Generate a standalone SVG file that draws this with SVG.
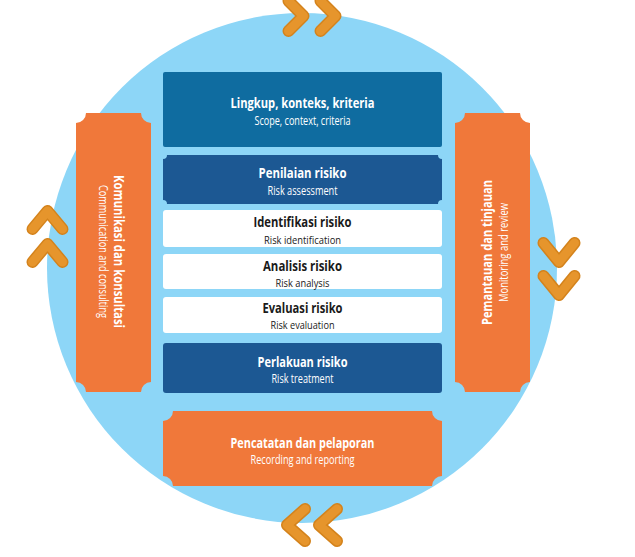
<svg xmlns="http://www.w3.org/2000/svg" width="635" height="557" viewBox="0 0 635 557">
<style>
.t{font-family:"Open Sans","Noto Sans","Liberation Sans",sans-serif;font-weight:700;font-size:14.5px;text-anchor:middle}
.s{font-family:"Open Sans","Noto Sans","Liberation Sans",sans-serif;font-weight:400;font-size:12px;text-anchor:middle}
.tb{font-size:14px}
.sb{font-size:11.5px}
.w{fill:#ffffff}
.d{fill:#1a1a1a}
.orange{fill:#f0783a}
.navy{fill:#1c5893}
.teal{fill:#0f6ca0}
.white{fill:#ffffff}
.chevO{fill:none;stroke:#d4831c;stroke-width:12;stroke-linecap:round;stroke-linejoin:round}
.chevI{fill:none;stroke:#e6952c;stroke-width:9;stroke-linecap:round;stroke-linejoin:round}
</style>
<defs>
<path id="chR" d="M0,-15 L15,0 L0,15"/>
<path id="chL" d="M18,-16 L0,0 L18,16"/>
<path id="chU" d="M-15,18 L0,0 L15,18"/>
<path id="chD" d="M-15.5,-19 L0,0 L15.5,-19"/>
</defs>
<rect width="635" height="557" fill="#ffffff"/>
<circle id="cycle" cx="302" cy="268" r="255" fill="#8dd6f7"/>

<g id="connectors">
<g transform="translate(288.5,16)"><use href="#chR" class="chevO"/><use href="#chR" class="chevI"/></g>
<g transform="translate(320.5,16)"><use href="#chR" class="chevO"/><use href="#chR" class="chevI"/></g>
<g transform="translate(287,525)"><use href="#chL" class="chevO"/><use href="#chL" class="chevI"/></g>
<g transform="translate(319,525)"><use href="#chL" class="chevO"/><use href="#chL" class="chevI"/></g>
<g transform="translate(47.5,211)"><use href="#chU" class="chevO"/><use href="#chU" class="chevI"/></g>
<g transform="translate(47.5,244)"><use href="#chU" class="chevO"/><use href="#chU" class="chevI"/></g>
<g transform="translate(559,262)"><use href="#chD" class="chevO"/><use href="#chD" class="chevI"/></g>
<g transform="translate(559,295)"><use href="#chD" class="chevO"/><use href="#chD" class="chevI"/></g>
</g>

<g id="scope">
<rect x="163" y="72" width="279" height="75" rx="2" class="teal"/>
<text x="302.5" y="108" class="t w" textLength="144" lengthAdjust="spacingAndGlyphs">Lingkup, konteks, kriteria</text>
<text x="302.5" y="125" class="s w" textLength="96" lengthAdjust="spacingAndGlyphs">Scope, context, criteria</text>
</g>

<g id="assessment">
<path d="M167,155 H438 A4 4 0 0 0 442,159 V200 A4 4 0 0 0 438,204 H167 A4 4 0 0 0 163,200 V159 A4 4 0 0 0 167,155 Z" class="navy"/>
<text x="302.5" y="178" class="t w" textLength="88" lengthAdjust="spacingAndGlyphs">Penilaian risiko</text>
<text x="302.5" y="195" class="s w" textLength="70" lengthAdjust="spacingAndGlyphs">Risk assessment</text>
</g>

<g id="identification">
<rect x="163" y="210" width="279" height="37" rx="3" class="white"/>
<text x="302.5" y="227" class="t tb d" textLength="98" lengthAdjust="spacingAndGlyphs">Identifikasi risiko</text>
<text x="302.5" y="244" class="s sb d" textLength="77" lengthAdjust="spacingAndGlyphs">Risk identification</text>
</g>

<g id="analysis">
<rect x="163" y="254" width="279" height="35" rx="3" class="white"/>
<text x="302.5" y="271" class="t tb d" textLength="79" lengthAdjust="spacingAndGlyphs">Analisis risiko</text>
<text x="302.5" y="287" class="s sb d" textLength="54" lengthAdjust="spacingAndGlyphs">Risk analysis</text>
</g>

<g id="evaluation">
<rect x="163" y="297" width="279" height="36" rx="3" class="white"/>
<text x="302.5" y="313" class="t tb d" textLength="80" lengthAdjust="spacingAndGlyphs">Evaluasi risiko</text>
<text x="302.5" y="329" class="s sb d" textLength="64" lengthAdjust="spacingAndGlyphs">Risk evaluation</text>
</g>

<g id="treatment">
<rect x="163" y="343" width="279" height="50" rx="3" class="navy"/>
<text x="302.5" y="367" class="t w" textLength="90" lengthAdjust="spacingAndGlyphs">Perlakuan risiko</text>
<text x="302.5" y="383" class="s w" textLength="62" lengthAdjust="spacingAndGlyphs">Risk treatment</text>
</g>

<g id="recording">
<path d="M173,411 H432 A10 10 0 0 0 442,421 V476 A10 10 0 0 0 432,486 H173 A10 10 0 0 0 163,476 V421 A10 10 0 0 0 173,411 Z" class="orange"/>
<text x="302.5" y="448" class="t w" textLength="144" lengthAdjust="spacingAndGlyphs">Pencatatan dan pelaporan</text>
<text x="302.5" y="464" class="s w" textLength="104" lengthAdjust="spacingAndGlyphs">Recording and reporting</text>
</g>

<g id="communication">
<path d="M86,113 H141 A10 10 0 0 0 151,123 V382 A10 10 0 0 0 141,392 H86 A10 10 0 0 0 76,382 V123 A10 10 0 0 0 86,113 Z" class="orange"/>
<text transform="translate(114,251.5) rotate(90)" x="0" y="0" class="t w" textLength="153" lengthAdjust="spacingAndGlyphs">Komunikasi dan konsultasi</text>
<text transform="translate(99,251.5) rotate(90)" x="0" y="0" class="s w" textLength="133" lengthAdjust="spacingAndGlyphs">Communication and consulting</text>
</g>

<g id="monitoring">
<path d="M465,113 H520 A10 10 0 0 0 530,123 V382 A10 10 0 0 0 520,392 H465 A10 10 0 0 0 455,382 V123 A10 10 0 0 0 465,113 Z" class="orange"/>
<text transform="translate(492,252.5) rotate(-90)" x="0" y="0" class="t w" textLength="145" lengthAdjust="spacingAndGlyphs">Pemantauan dan tinjauan</text>
<text transform="translate(508,252.5) rotate(-90)" x="0" y="0" class="s w" textLength="99" lengthAdjust="spacingAndGlyphs">Monitoring and review</text>
</g>
</svg>
